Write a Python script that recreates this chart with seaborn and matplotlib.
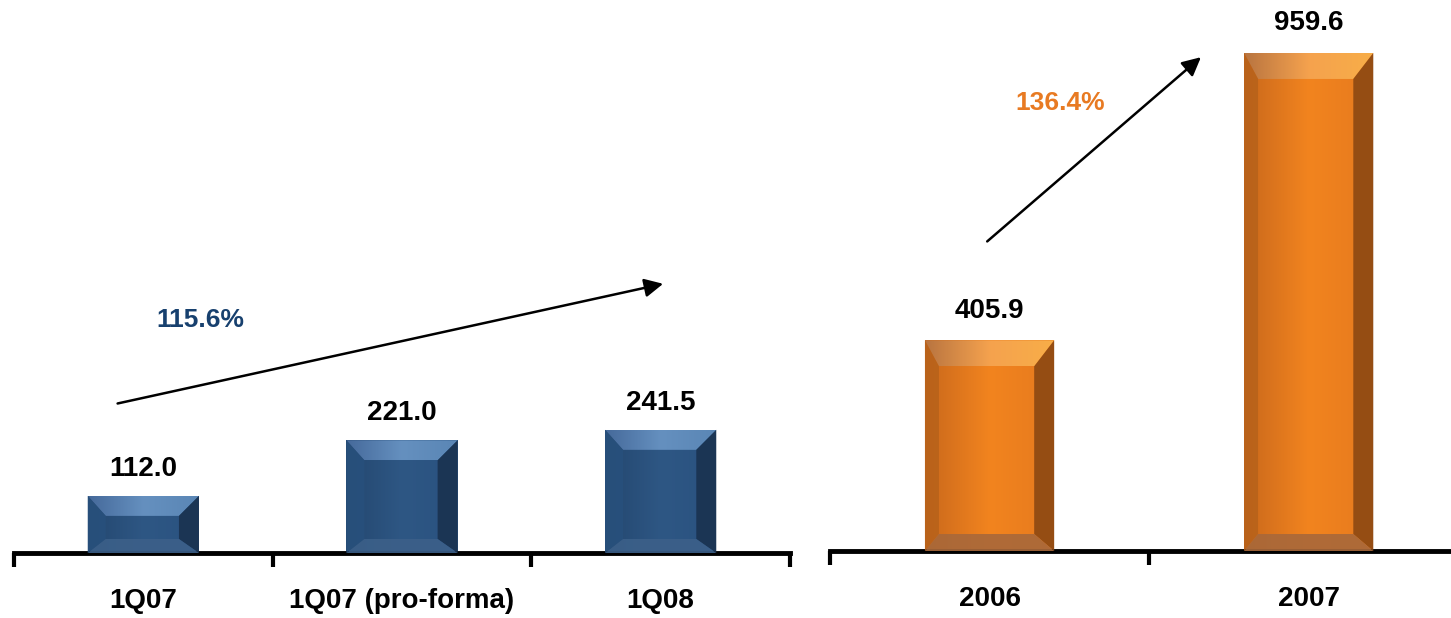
import matplotlib
matplotlib.use("Agg")
import matplotlib.pyplot as plt
import seaborn as sns
import numpy as np
from matplotlib.patches import Polygon
from matplotlib.colors import LinearSegmentedColormap

# ---- data ----
q_categories = ["1Q07", "1Q07 (pro-forma)", "1Q08"]
q_values = [112.0, 221.0, 241.5]
q_growth = "115.6%"

y_categories = ["2006", "2007"]
y_values = [405.9, 959.6]
y_growth = "136.4%"

sns.set_theme(style="white")
plt.rcParams["font.family"] = ["Liberation Sans", "DejaVu Sans"]
plt.rcParams["font.weight"] = "bold"

W, H = 1451, 618
fig = plt.figure(figsize=(W / 100, H / 100), dpi=100)

# axes positions (pixels)
axL = fig.add_axes([14 / W, 65 / H, 776 / W, 510 / H])
axR = fig.add_axes([830 / W, 67 / H, 621 / W, 519 / H])

BLUE = dict(face=["#24476F", "#2E5784", "#2A5280"], top=["#45699A", "#6590BF", "#5A86B5"],
            right="#1A3250", left="#28507C", bottom="#3C6089")
ORANGE = dict(face=["#C9681C", "#F2841F", "#E67A1E"], top=["#B87440", "#F5A24E", "#F8AE48"],
              right="#8C4812", left="#B8621A", bottom="#A8683A")


def grad_fill(ax, pts, cols, z):
    poly = Polygon(pts, closed=True, facecolor="none", edgecolor="none", zorder=z)
    ax.add_patch(poly)
    xs = [p[0] for p in pts]
    ys = [p[1] for p in pts]
    cmap = LinearSegmentedColormap.from_list("g", cols)
    grad = np.linspace(0, 1, 256).reshape(1, -1)
    im = ax.imshow(grad, cmap=cmap, aspect="auto", interpolation="bicubic",
                   extent=(min(xs), max(xs), min(ys), max(ys)), zorder=z)
    im.set_clip_path(poly)


def bevel(ax, colors, top_px, left_px, right_px, bot_px):
    xl, yl = ax.get_xlim(), ax.get_ylim()
    fig.canvas.draw()
    p0 = ax.transData.transform((0, 0))
    p1 = ax.transData.transform((1, 1))
    px_x = p1[0] - p0[0]
    px_y = p1[1] - p0[1]
    for p in list(ax.patches):
        x0, w, h = p.get_x(), p.get_width(), p.get_height()
        dl = left_px / px_x
        dr = right_px / px_x
        dt = top_px / px_y
        db = bot_px / px_y
        x1 = x0 + w
        grad_fill(ax, [(x0, 0), (x1, 0), (x1, h), (x0, h)], colors["face"], 2.5)
        grad_fill(ax, [(x0, h), (x1, h), (x1 - dr, h - dt), (x0 + dl, h - dt)], colors["top"], 3)
        polys = [
            ([(x1, h), (x1, 0), (x1 - dr, db), (x1 - dr, h - dt)], colors["right"]),
            ([(x0, h), (x0, 0), (x0 + dl, db), (x0 + dl, h - dt)], colors["left"]),
            ([(x0, 0), (x1, 0), (x1 - dr, db), (x0 + dl, db)], colors["bottom"]),
        ]
        for pts, c in polys:
            ax.add_patch(Polygon(pts, closed=True, facecolor=c, edgecolor="none",
                                 alpha=0.9, zorder=3))
    ax.set_xlim(*xl)
    ax.set_ylim(*yl)


def style_axis(ax, cats, ylim, xmax):
    n = len(cats)
    ax.set_xticks(np.arange(-0.5, n + 0.5, 1.0))
    ax.set_xticklabels([""] * (n + 1))
    ax.set_xticks(np.arange(n), minor=True)
    ax.set_xticklabels(cats, minor=True, fontsize=20, fontweight="bold", color="black")
    ax.tick_params(axis="x", which="major", direction="out", length=10, width=3, color="black", bottom=True)
    ax.tick_params(axis="x", which="minor", length=0, pad=25, bottom=True)
    ax.set_yticks([])
    ax.set_xlabel("")
    ax.set_ylabel("")
    for s in ["left", "right", "top"]:
        ax.spines[s].set_visible(False)
    ax.spines["bottom"].set_linewidth(3.5)
    ax.spines["bottom"].set_color("black")
    ax.set_facecolor("none")
    ax.set_ylim(*ylim)
    ax.set_xlim(-0.5, xmax)


# left panel
sns.barplot(x=q_categories, y=q_values, color=BLUE["face"][1], width=0.43, saturation=1,
            ax=axL, zorder=2)
style_axis(axL, q_categories, (0, 1000), 2.5)
bevel(axL, BLUE, 20, 18, 20, 14)
for i, v in enumerate(q_values):
    axL.annotate(f"{v:.1f}", (i, v), xytext=(0, 10), textcoords="offset points",
                 ha="center", va="bottom", fontsize=20, fontweight="bold", color="black")
axL.annotate("", xy=(2.02, 529), xytext=(-0.11, 292),
             arrowprops=dict(arrowstyle="-|>", color="black", lw=1.8, mutation_scale=28))
axL.text(0.22, 457, q_growth, ha="center", va="center", fontsize=19,
         fontweight="bold", color="#17406E")

# right panel
sns.barplot(x=y_categories, y=y_values, color=ORANGE["face"][1], width=0.405, saturation=1,
            ax=axR, zorder=2)
style_axis(axR, y_categories, (0, 1000), 1.446)
bevel(axR, ORANGE, 26, 14, 20, 17)
for i, v in enumerate(y_values):
    axR.annotate(f"{v:.1f}", (i, v), xytext=(0, 12), textcoords="offset points",
                 ha="center", va="bottom", fontsize=20, fontweight="bold", color="black")
axR.annotate("", xy=(0.669, 955), xytext=(-0.014, 593),
             arrowprops=dict(arrowstyle="-|>", color="black", lw=1.8, mutation_scale=28))
axR.text(0.22, 863, y_growth, ha="center", va="center", fontsize=19,
         fontweight="bold", color="#E87A22")

for ax in (axL, axR):
    ax.spines["bottom"].set_clip_on(False)

fig.savefig("out.png", dpi=100, facecolor="white")
